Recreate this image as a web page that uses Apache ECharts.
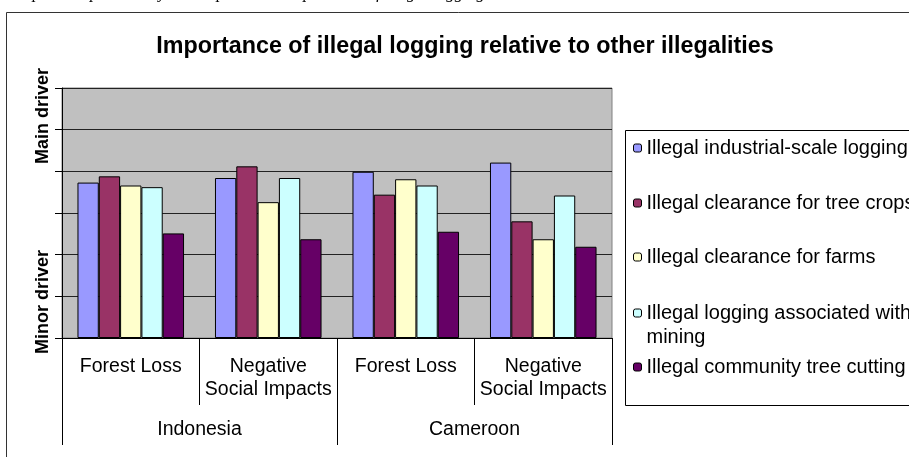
<!DOCTYPE html>
<html>
<head>
<meta charset="utf-8">
<script src="https://cdn.jsdelivr.net/npm/echarts@6/dist/echarts.min.js"></script>
<style>
html,body{margin:0;padding:0;background:#fff;}
#chart{width:909px;height:457px;}
</style>
</head>
<body>
<div id="chart"></div>
<script>
// ---- data ----
const categories = ['Forest Loss', 'Negative\nSocial Impacts', 'Forest Loss', 'Negative\nSocial Impacts'];
const countries = ['Indonesia', 'Cameroon'];
const seriesNames = [
  'Illegal industrial-scale logging',
  'Illegal clearance for tree crops',
  'Illegal clearance for farms',
  'Illegal logging associated with mining',
  'Illegal community tree cutting'
];
const legendLabels = [
  'Illegal industrial-scale logging',
  'Illegal clearance for tree crops',
  'Illegal clearance for farms',
  'Illegal logging associated with\nmining',
  'Illegal community tree cutting'
];
const industrialLogging = [3.73, 3.84, 3.99, 4.21];
const treeCrops        = [3.88, 4.12, 3.44, 2.80];
const farms            = [3.66, 3.26, 3.81, 2.37];
const mining           = [3.62, 3.84, 3.66, 3.42];
const communityCutting = [2.51, 2.37, 2.55, 2.19];
const seriesValues = [industrialLogging, treeCrops, farms, mining, communityCutting];
const colors = ['#9999FF', '#993366', '#FFFFCC', '#CCFFFF', '#660066'];
const yLabelTop = 'Main driver';
const yLabelBottom = 'Minor driver';
const titleText = 'Importance of illegal logging relative to other illegalities';
const captionText = 'Graph 2: Expert survey on the perceived importance of illegal logging';

// ---- chart ----
const chart = echarts.init(document.getElementById('chart'), null, {renderer: 'canvas'});
const FONT = '"Liberation Sans", Arial, sans-serif';
const LEG_FS = 20;
const LEG_LH = 24;

const series = seriesNames.map((name, i) => ({
  name: name,
  type: 'bar',
  xAxisIndex: 0,
  yAxisIndex: 0,
  data: seriesValues[i],
  barGap: '0%',
  barCategoryGap: '22.5%',
  itemStyle: {color: colors[i], borderColor: '#000', borderWidth: 1},
  emphasis: {disabled: true},
  animation: false
}));

// legend entries: first-line centre y of each entry
const legendRowCentres = [148, 203, 257, 313, 367];
const legends = seriesNames.map((name, i) => {
  const label = legendLabels[i];
  const nLines = label.split('\n').length;
  // pad a blank line above multi-line labels so the icon lines up with the first line
  const text = nLines > 1 ? ' \n' + label : label;
  const firstLineOffset = nLines > 1 ? LEG_LH : 0;
  return {
    orient: 'vertical',
    left: 633,
    top: legendRowCentres[i] - LEG_LH / 2 - firstLineOffset,
    padding: 0,
    itemWidth: 8,
    itemHeight: 8,
    itemStyle: {borderColor: '#000', borderWidth: 1},
    selectedMode: false,
    formatter: function () { return text; },
    textStyle: {fontFamily: FONT, fontSize: LEG_FS, color: '#000', lineHeight: LEG_LH},
    data: [name]
  };
});

const option = {
  animation: false,
  textStyle: {fontFamily: FONT},
  color: colors,
  title: {
    text: titleText,
    left: 460,
    top: 30,
    textAlign: 'center',
    textStyle: {fontFamily: FONT, fontWeight: 'bold', fontSize: 23.3, color: '#000'}
  },
  grid: {
    left: 62, right: 297, top: 88, bottom: 119,
    show: true, backgroundColor: '#C0C0C0', borderColor: '#808080', borderWidth: 1
  },
  legend: legends,
  xAxis: [
    {
      type: 'category',
      gridIndex: 0,
      position: 'bottom',
      data: categories,
      axisLine: {show: true, lineStyle: {color: '#000', width: 1}},
      axisTick: {show: true, length: 67, interval: 0, lineStyle: {color: '#000', width: 1}},
      axisLabel: {interval: 0, margin: 17, fontFamily: FONT, fontSize: 19.5, color: '#000', lineHeight: 23, verticalAlign: 'top'},
      splitLine: {show: false}
    },
    {
      type: 'category',
      gridIndex: 0,
      position: 'bottom',
      data: countries,
      axisLine: {show: false},
      axisTick: {show: true, length: 107, interval: 0, lineStyle: {color: '#000', width: 1}},
      axisLabel: {interval: 0, margin: 80, fontFamily: FONT, fontSize: 19.5, color: '#000', lineHeight: 23, verticalAlign: 'top'},
      splitLine: {show: false}
    }
  ],
  yAxis: {
    type: 'value',
    min: 0, max: 6, interval: 1,
    axisLine: {show: true, lineStyle: {color: '#000', width: 1}},
    axisTick: {show: true, inside: false, length: 7, lineStyle: {color: '#000'}},
    axisLabel: {show: false},
    splitLine: {show: true, lineStyle: {color: '#222', width: 1}}
  },
  graphic: [
    {type: 'rect', silent: true, z: -10, shape: {x: 6.5, y: 12.5, width: 1000, height: 600},
     style: {fill: 'none', stroke: '#333', lineWidth: 1}},
    {type: 'rect', silent: true, z: -5, shape: {x: 625.5, y: 130.5, width: 400, height: 275},
     style: {fill: '#fff', stroke: '#000', lineWidth: 1}},
    {type: 'text', silent: true, x: 5, y: 2.5,
     style: {text: captionText, font: 'italic 17px "Liberation Serif", serif', fill: '#000', verticalAlign: 'bottom'}},
    {type: 'text', silent: true, x: 43, y: 116, rotation: Math.PI / 2,
     style: {text: yLabelTop, font: 'bold 18px "Liberation Sans", Arial, sans-serif', fill: '#000', align: 'center', verticalAlign: 'middle'}},
    {type: 'text', silent: true, x: 43, y: 302, rotation: Math.PI / 2,
     style: {text: yLabelBottom, font: 'bold 18px "Liberation Sans", Arial, sans-serif', fill: '#000', align: 'center', verticalAlign: 'middle'}}
  ],
  series: series
};
chart.setOption(option);
</script>
</body>
</html>
